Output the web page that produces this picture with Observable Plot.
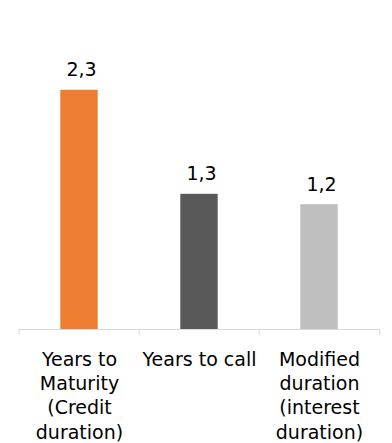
<!DOCTYPE html>
<html>
<head>
<meta charset="utf-8">
<script src="https://cdn.jsdelivr.net/npm/d3@7"></script>
<script src="https://cdn.jsdelivr.net/npm/@observablehq/plot@0.6"></script>
<style>
  html, body { margin: 0; padding: 0; background: #fff; }
  #chart svg { display: block; }
</style>
</head>
<body>
<div id="chart"></div>
<script>
// Duration measures (years)
const categories = ["maturity", "call", "modified"];
const values = [2.3, 1.3, 1.2];
const tickLabels = [
  "Years to\nMaturity\n(Credit\nduration)",
  "Years to call",
  "Modified\nduration\n(interest\nduration)"
];
const barColors = ["#ED7D31", "#595959", "#BFBFBF"];

const rows = categories.map((c, i) => ({category: c, value: values[i], label: tickLabels[i]}));

const width = 392;
const height = 443;
const marginLeft = 18;
const marginRight = 12;
const fontSize = 19;
const font = "DejaVu Sans";
const axisColor = "#D9D9D9";

// half of one category band, used to put separators on band edges
const halfBand = (width - marginLeft - marginRight) / categories.length / 2;
const decimalComma = d3.formatLocale({decimal: ",", thousands: ".", grouping: [3], currency: ["", ""]}).format(".1f");

const chart = Plot.plot({
  width,
  height,
  marginLeft,
  marginRight,
  marginTop: 69,
  marginBottom: 114,
  style: {fontFamily: font, background: "#fff"},
  x: {domain: categories, padding: 0, axis: null},
  y: {domain: [0, 2.5], axis: null},
  color: {domain: categories, range: barColors},
  marks: [
    Plot.barY(rows, {x: "category", y: "value", fill: "category", insetLeft: 41.3, insetRight: 41.3}),
    Plot.ruleY([0], {stroke: axisColor, strokeWidth: 1}),
    Plot.ruleX(categories, {x: d => d, y1: 0, y2: 0, dx: -halfBand, insetBottom: -6, stroke: axisColor}),
    Plot.ruleX(categories.slice(-1), {x: d => d, y1: 0, y2: 0, dx: halfBand, insetBottom: -6, stroke: axisColor}),
    Plot.text(rows, {
      x: "category", y: "value", text: d => decimalComma(d.value),
      dy: -14, dx: 2, lineAnchor: "bottom", fontSize, fill: "#000"
    }),
    Plot.text(rows, {
      x: "category", text: "label", frameAnchor: "bottom", lineAnchor: "top",
      dy: 19, lineHeight: 1.28, fontSize, fill: "#000"
    })
  ]
});

document.getElementById("chart").appendChild(chart);
</script>
</body>
</html>
